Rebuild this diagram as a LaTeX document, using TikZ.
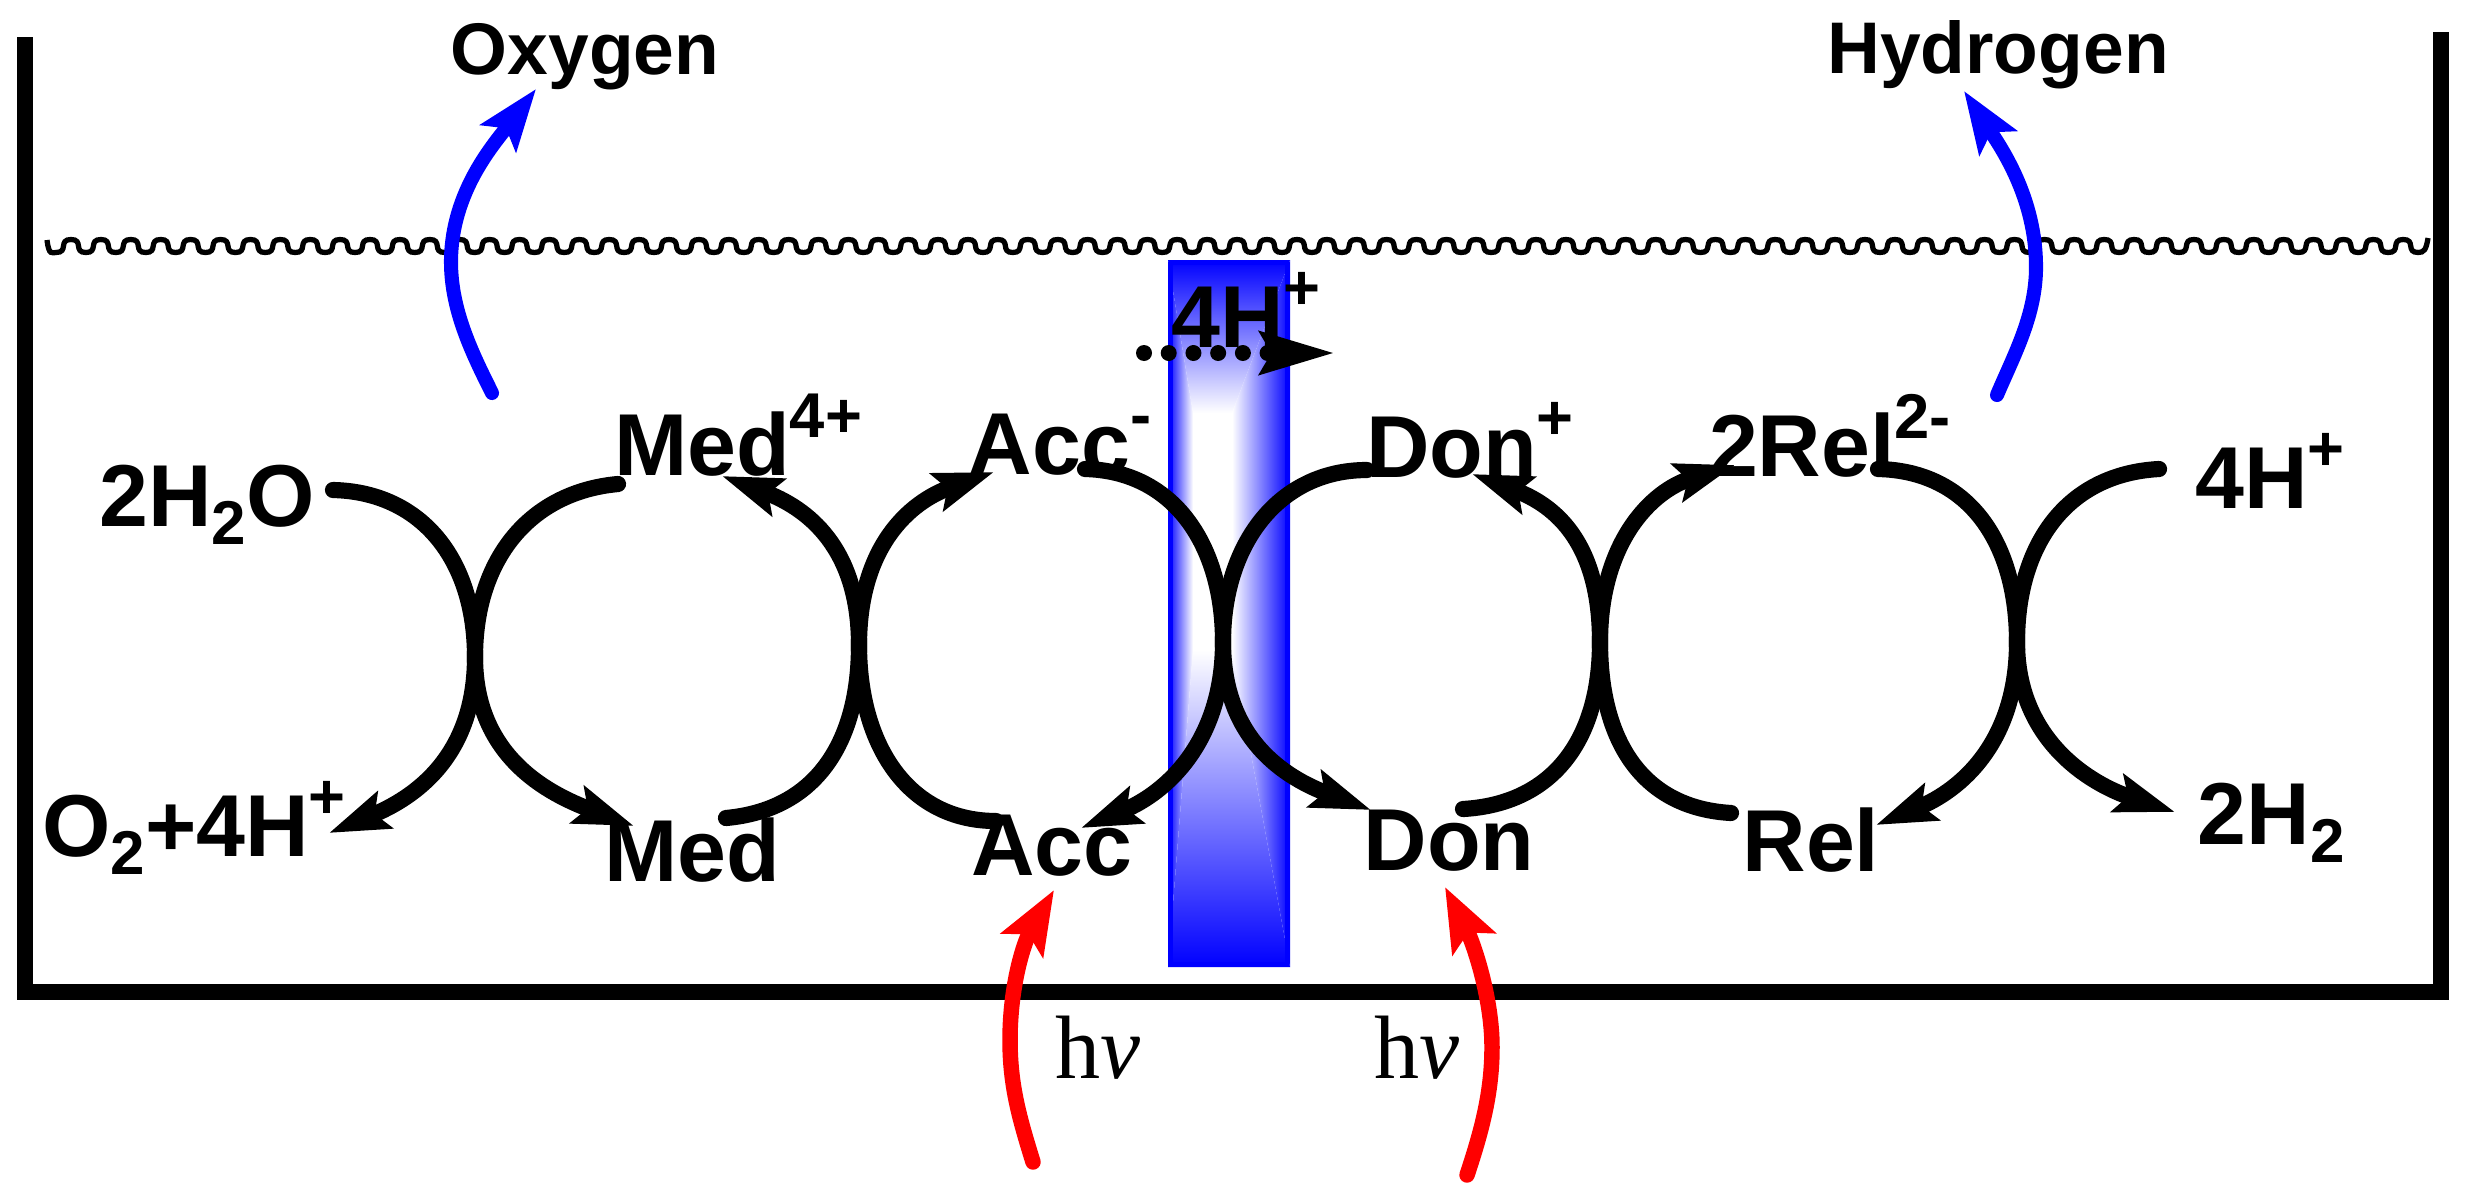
\documentclass[tikz,border=0pt]{standalone}
\usepackage{fontspec}
\setmainfont{Liberation Sans}
\newfontfamily\hvfont{Liberation Serif}
\usetikzlibrary{arrows.meta}
\newcommand{\lowtwo}{\raisebox{-5.3pt}{\fontsize{17.6pt}{18pt}\selectfont 2}}
\newcommand{\hightxt}[1]{\raisebox{10.6pt}{\fontsize{18pt}{18pt}\selectfont #1}}
\tikzset{
  lab/.style={inner sep=0pt,anchor=base,font=\bfseries\fontsize{25pt}{26pt}\selectfont},
  smalllab/.style={inner sep=0pt,anchor=base,font=\bfseries\fontsize{20.8pt}{22pt}\selectfont},
  hvlab/.style={inner sep=0pt,anchor=base,font=\hvfont\fontsize{25.6pt}{26pt}\selectfont},
  frameline/.style={line width=4.55pt,black,line join=miter},
  wavey/.style={line width=1.5pt,black},
  swoop/.style={line width=4.6pt,black,line cap=round},
  head/.style={-{Stealth[length=17pt,width=11pt,inset=3pt]}},
  gas/.style={line width=4pt,blue,line cap=round,-{Stealth[length=17.5pt,width=12.5pt,inset=3.5pt]}},
  light/.style={line width=4.4pt,red,line cap=round,-{Stealth[length=18pt,width=13.5pt,inset=3.5pt]}},
  dotty/.style={line width=4.55pt,black,line cap=round,dash pattern=on 0pt off 7.03pt,-{Stealth[length=21pt,width=11.7pt,inset=3pt]}}
}
\begin{document}
\begin{tikzpicture}[x=0.01cm,y=-0.01cm]
\useasboundingbox (0,0) rectangle (2470,1200);
% membrane
\fill[white] (1168,260) rectangle (1290,967);
\shade[top color=blue,bottom color=white] (1168,260) -- (1290,260) -- (1232,413) -- (1193,413) -- cycle;
\shade[top color=white,bottom color=blue] (1193,650) -- (1232,650) -- (1290,967) -- (1168,967) -- cycle;
\shade[left color=blue,right color=white] (1168,260) -- (1193,413) -- (1193,650) -- (1168,967) -- cycle;
\shade[left color=white,right color=blue] (1290,260) -- (1232,413) -- (1232,650) -- (1290,967) -- cycle;
\draw[blue,line width=1.4pt,rounded corners=0.6pt] (1170.5,262.5) rectangle (1287.5,964.5);
% vessel
\coordinate (tl) at (25,37); \coordinate (bl) at (25,992);
\coordinate (br) at (2441,992); \coordinate (tr) at (2441,32);
\draw[frameline] (tl) -- (bl) -- (br) -- (tr);
% water surface
\draw[wavey] (47,240) .. controls (49,256) and (52,252.5) .. (56,252.5)
  \foreach \i [evaluate=\i as \t using 56+29.9*\i] in {0,...,78} {
    .. controls ({\t+13},252.5) and ({\t+2},239.5) .. ({\t+15},239.5)
    .. controls ({\t+28},239.5) and ({\t+17},252.5) .. ({\t+29.9},252.5)
  } .. controls (2424,252.5) and (2426,250) .. (2428,238);
% labels
\node[smalllab] (oxy) at (585,74) {Oxygen};
\node[smalllab] (hyd) at (1998,73) {Hydrogen};
\node[lab] (water) at (207,526) {2H\lowtwo O};
\node[lab] (oxyprod) at (194,856) {O\lowtwo+4H\hightxt{+}};
\node[lab] (medox) at (738,475) {Med\hightxt{4+}};
\node[lab] (med) at (692,881) {Med};
\node[lab] (accm) at (1060,474) {Acc\hightxt{-}};
\node[lab] (acc) at (1052,875) {Acc};
\node[lab] (donp) at (1470,477) {Don\hightxt{+}};
\node[lab] (don) at (1449,870) {Don};
\node[lab] (relm) at (1830,476) {2Rel\hightxt{2-}};
\node[lab] (rel) at (1811,871) {Rel};
\node[lab] (hplus) at (2270,508) {4H\hightxt{+}};
\node[lab] (htwo) at (2271,844) {2H\lowtwo};
\node[lab] (hmem) at (1246,347) {4H\hightxt{+}};
\node[hvlab] (hva) at (1098,1078) {h{\itshape ν}};
\node[hvlab] (hvb) at (1417,1078) {h{\itshape ν}};
% crossing points
\coordinate (x1) at (475,657); \coordinate (x2) at (859,645); \coordinate (x3) at (1223,642);
\coordinate (x4) at (1600,642); \coordinate (x5) at (2017,642);
% ends
\coordinate (a1) at (333,490);  \coordinate (b1) at (329,833);
\coordinate (a2) at (618,484);  \coordinate (b2) at (634,826);
\coordinate (a3) at (726,818);  \coordinate (b3) at (722,476);
\coordinate (a4) at (996,821);  \coordinate (b4) at (994,472);
\coordinate (a5) at (1085,469); \coordinate (b5) at (1081,828);
\coordinate (a6) at (1367,470); \coordinate (b6) at (1371,810);
\coordinate (a7) at (1463,809); \coordinate (b7) at (1472,474);
\coordinate (a8) at (1731,813); \coordinate (b8) at (1735,465);
\coordinate (a9) at (1878,469); \coordinate (b9) at (1876,825);
\coordinate (a10) at (2159,469); \coordinate (b10) at (2175,812);
% redox arcs
\draw[swoop,head] (a1) .. controls +(88,2) and +(0,-98) .. (x1) .. controls +(0,100) and +(85,-35) .. (b1);
\draw[swoop,head] (a2) .. controls +(-88,8) and +(0,-98) .. (x1) .. controls +(0,100) and +(-85,-32) .. (b2);
\draw[swoop,head] (a3) .. controls +(88,-8) and +(0,100) .. (x2) .. controls +(0,-98) and +(85,32) .. (b3);
\draw[swoop,head] (a4) .. controls +(-88,0) and +(0,100) .. (x2) .. controls +(0,-98) and +(-85,30) .. (b4);
\draw[swoop,head] (a5) .. controls +(88,2) and +(0,-98) .. (x3) .. controls +(0,100) and +(85,-35) .. (b5);
\draw[swoop,head] (a6) .. controls +(-88,0) and +(0,-98) .. (x3) .. controls +(0,98) and +(-85,-32) .. (b6);
\draw[swoop,head] (a7) .. controls +(88,-5) and +(0,100) .. (x4) .. controls +(0,-98) and +(85,32) .. (b7);
\draw[swoop,head] (a8) .. controls +(-88,-5) and +(0,100) .. (x4) .. controls +(0,-98) and +(-85,26) .. (b8);
\draw[swoop,head] (a9) .. controls +(92,2) and +(0,-98) .. (x5) .. controls +(0,100) and +(85,-35) .. (b9);
\draw[swoop,head] (a10) .. controls +(-92,5) and +(0,-98) .. (x5) .. controls +(0,98) and +(-85,-28) .. (b10);
% gas arrows
\coordinate (o1) at (492,393); \coordinate (om) at (451,262); \coordinate (o2) at (536,89);
\coordinate (h1) at (1997,395); \coordinate (hm) at (2036,267); \coordinate (h2) at (1964,91);
\draw[gas] (o1) .. controls +(-20,-40) and +(0,48) .. (om) .. controls +(0,-70) and +(-42,55) .. (o2);
\draw[gas] (h1) .. controls +(17,-40) and +(0,48) .. (hm) .. controls +(0,-70) and +(36,55) .. (h2);
% light arrows
\coordinate (r1) at (1033,1162); \coordinate (rm) at (1010,1040); \coordinate (r2) at (1054,890);
\coordinate (s1) at (1467,1175); \coordinate (sm) at (1492,1047); \coordinate (s2) at (1445,887);
\draw[light] (r1) .. controls +(-14,-45) and +(0,45) .. (rm) .. controls +(0,-55) and +(-30,52) .. (r2);
\draw[light] (s1) .. controls +(15,-45) and +(0,45) .. (sm) .. controls +(0,-50) and +(28,55) .. (s2);
% proton transfer
\coordinate (d1) at (1144,353); \coordinate (d2) at (1335,353);
\draw[dotty] (d1) -- (d2);
\end{tikzpicture}
\end{document}
